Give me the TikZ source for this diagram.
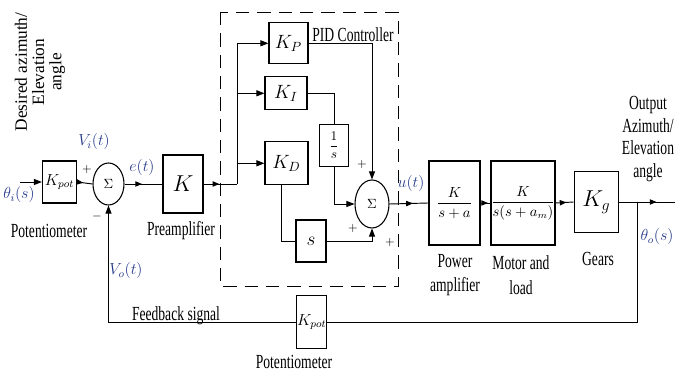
\documentclass[tikz,border=0pt]{standalone}
\usepackage{amsmath}
\usepackage{fontspec}
\setmainfont[FakeStretch=0.68]{Liberation Serif}
\newfontfamily\plainserif{Liberation Serif}
\usetikzlibrary{arrows.meta,shapes.geometric,decorations.markings}

\definecolor{sigblue}{RGB}{40,60,140}

\tikzset{
  blk/.style={draw,line width=0.9pt,inner sep=0pt},
  sumnode/.style={draw,ellipse,line width=0.8pt,inner sep=0pt},
  wire/.style={line width=0.7pt},
  into/.style={-{Triangle[length=6pt,width=4.5pt]}},
  midtip/.style={postaction={decorate},decoration={markings,mark=at position #1 with {\arrow{Triangle[length=5pt,width=4pt]}}}},
  lbl/.style={inner sep=0.75pt,font=\fontsize{15}{18.5}\selectfont},
  sig/.style={inner sep=0.75pt,text=sigblue,font=\large},
  sgn/.style={inner sep=0.5pt,font=\small},
}

\begin{document}
\begin{tikzpicture}[x=0.75pt,y=0.75pt,yscale=-1,xscale=1]
\useasboundingbox (0,0) rectangle (675,377);

% forward path blocks
\node [blk,minimum width=25.5pt,minimum height=31.5pt] (kpa) at (59.5,182) {\large$K_{pot}$};
\node [sumnode,minimum width=23.25pt,minimum height=31.5pt] (sum1) at (108.5,184) {$\Sigma$};
\node [blk,minimum width=30pt,minimum height=43.5pt] (pre) at (183,184) {\LARGE$K$};
\coordinate (br) at (237,184);

% PID controller
\node [blk,minimum width=29.25pt,minimum height=30.75pt] (kp) at (288.5,43.3) {\Large$K_P$};
\node [blk,minimum width=31.5pt,minimum height=24.75pt] (ki) at (286,93.3) {\Large$K_I$};
\node [blk,minimum width=32.25pt,minimum height=32.25pt] (kd) at (286.5,163.3) {\Large$K_D$};
\node [blk,minimum width=21.75pt,minimum height=31.5pt] (inv) at (334,145.5) {$\dfrac{1}{s}$};
\node [blk,minimum width=22.5pt,minimum height=31.5pt] (sbox) at (311,241) {\Large$s$};
\node [sumnode,minimum width=25.5pt,minimum height=36pt] (sum2) at (372,204) {$\Sigma$};

% plant
\node [blk,minimum width=38.25pt,minimum height=63pt] (pa) at (454.5,203) {\fontsize{11}{13}\selectfont$\dfrac{K}{s+a}$};
\node [blk,minimum width=45pt,minimum height=63pt] (motor) at (523,203) {\fontsize{10.5}{12}\selectfont$\dfrac{K}{s(s+a_m)}$};
\node [blk,minimum width=33pt,minimum height=45.75pt] (gears) at (596.3,202) {\LARGE$K_g$};

% feedback
\node [blk,minimum width=22.5pt,minimum height=39.75pt] (kpb) at (311.7,322) {\large$K_{pot}$};
\coordinate (in0) at (20,182);
\coordinate (tap) at (637,202);
\coordinate (out) at (675,202);

% dashed frame of the controller
\draw [line width=0.7pt,dash pattern=on 10pt off 6pt] (220,12) rectangle (398,286);

% connectors
\draw [wire,into] (in0) -- (kpa.west);
\draw [wire,midtip=0.4] (kpa.east) -- (sum1.west);
\draw [wire,midtip=0.46] (sum1.east) -- (pre.west);
\draw [wire,midtip=0.47] (pre.east) -- (br);
\draw [wire,into] (br) |- (kp.west);
\draw [wire,into] (br) |- (ki.west);
\draw [wire,into] (br) |- (kd.west);
\draw [wire,into] (kp.east) -| (sum2.north);
\draw [wire] (ki.east) -| (inv.north);
\draw [wire,into] (inv.south) |- (sum2.west);
\draw [wire] ([xshift=-4pt]kd.south) |- (sbox.west);
\draw [wire,into] (sbox.east) -| (sum2.south);
\draw [wire,midtip=0.6] (sum2.east) -- (pa.west);
\draw [wire,midtip=0.75] (pa.east) -- (motor.west);
\draw [wire,midtip=0.6] (motor.east) -- (gears.west);
\draw [wire,midtip=0.67] (gears.east) -- (out);
\draw [wire] (tap) |- (kpb.east);
\draw [wire,into] (kpb.west) -| (sum1.south);

% signal labels
\node [sig] (thi) at (19,195) {$\theta_i(s)$};
\node [sig] (vi) at (94,142) {$V_i(t)$};
\node [sig] (et) at (142,168) {$e(t)$};
\node [sig] (vo) at (126,271) {$V_o(t)$};
\node [sig] (ut) at (411,184) {$u(t)$};
\node [sig] (tho) at (657,237) {$\theta_o(s)$};

% signs
\node [sgn] (s1a) at (87,170) {$+$};
\node [sgn] (s1b) at (97,217) {$-$};
\node [sgn] (s2a) at (362,165) {$+$};
\node [sgn] (s2b) at (353,229) {$+$};
\node [sgn] (s2c) at (390,243) {$+$};

% text labels
\node [lbl,rotate=90,align=center,font=\plainserif\fontsize{13}{13}\selectfont] (desl) at (40,72) {Desired azimuth/\\Elevation\\angle};
\node [lbl] (pot1) at (49,231) {Potentiometer};
\node [lbl] (prel) at (181,231) {Preamplifier};
\node [lbl] (pidl) at (353,35) {PID Controller};
\node [lbl,align=center] (pal) at (455,275) {Power\\amplifier};
\node [lbl,align=center] (mtl) at (521,275) {Motor and\\load};
\node [lbl] (grl) at (598,259) {Gears};
\node [lbl,align=center,font=\fontsize{15}{17}\selectfont] (outl) at (648,139) {Output\\Azimuth/\\Elevation\\angle};
\node [lbl] (fbl) at (176,316) {Feedback signal};
\node [lbl] (pot2) at (294,362) {Potentiometer};

\end{tikzpicture}
\end{document}
